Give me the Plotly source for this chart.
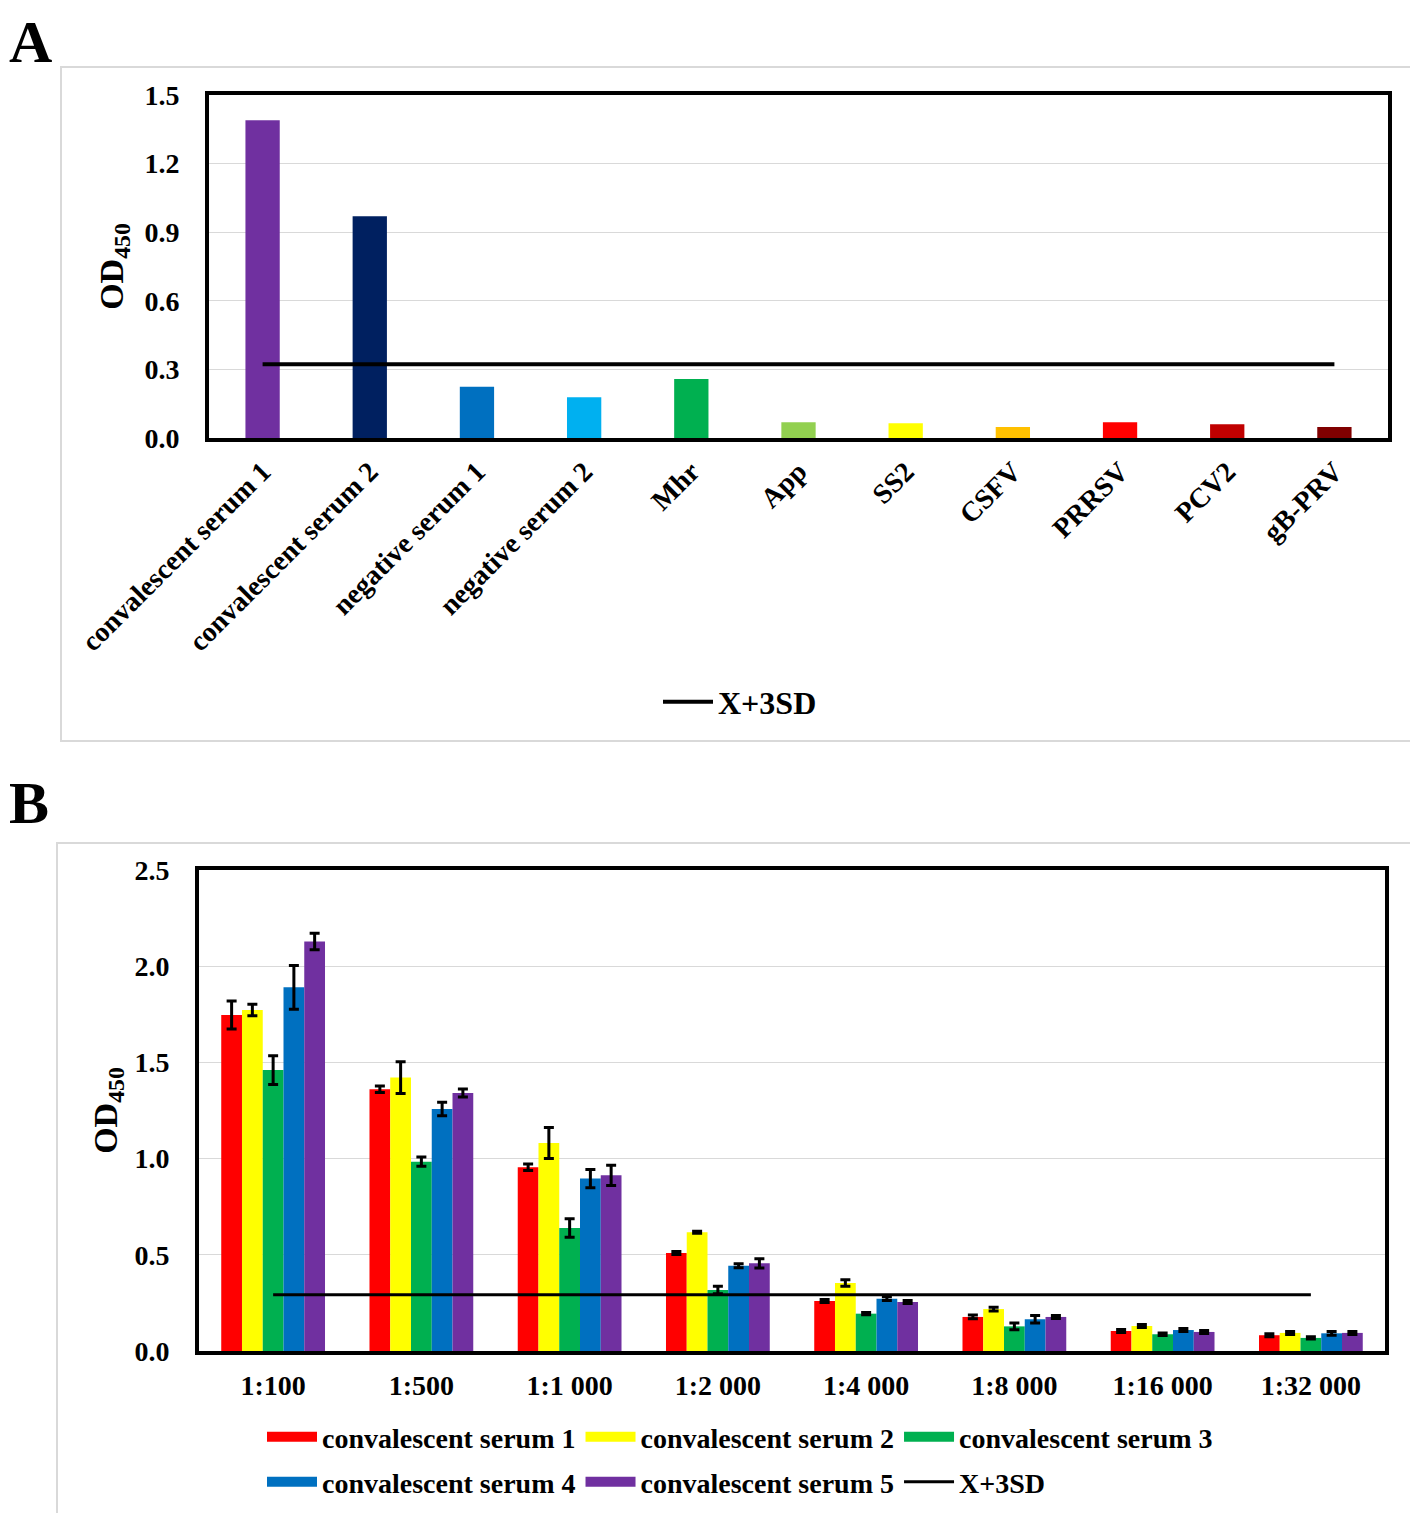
import plotly.graph_objects as go

# ---------------- Data: panel A ----------------
categories_a = ["convalescent serum 1", "convalescent serum 2", "negative serum 1",
                "negative serum 2", "Mhr", "App", "SS2", "CSFV", "PRRSV", "PCV2", "gB-PRV"]
od_a = [1.39, 0.97, 0.224, 0.178, 0.258, 0.069, 0.064, 0.048, 0.069, 0.060, 0.048]
colors_a = ["#7030A0", "#002060", "#0070C0", "#00B0F0", "#00B050", "#92D050",
            "#FFFF00", "#FFC000", "#FF0000", "#C00000", "#800000"]
cutoff_a = 0.322

# ---------------- Data: panel B ----------------
dilutions = ["1:100", "1:500", "1:1 000", "1:2 000", "1:4 000", "1:8 000", "1:16 000", "1:32 000"]
serum_names = ["convalescent serum 1", "convalescent serum 2", "convalescent serum 3",
               "convalescent serum 4", "convalescent serum 5"]
serum1 = [1.746, 1.360, 0.955, 0.509, 0.260, 0.177, 0.104, 0.082]
serum2 = [1.772, 1.421, 1.081, 0.617, 0.353, 0.218, 0.130, 0.094]
serum3 = [1.460, 0.984, 0.639, 0.317, 0.194, 0.128, 0.087, 0.068]
serum4 = [1.890, 1.258, 0.896, 0.443, 0.272, 0.165, 0.109, 0.092]
serum5 = [2.128, 1.341, 0.913, 0.456, 0.255, 0.177, 0.099, 0.094]
serum1_sd = [0.073, 0.017, 0.017, 0.008, 0.008, 0.010, 0.008, 0.008]
serum2_sd = [0.030, 0.083, 0.080, 0.005, 0.017, 0.010, 0.008, 0.008]
serum3_sd = [0.075, 0.024, 0.048, 0.020, 0.006, 0.018, 0.006, 0.006]
serum4_sd = [0.114, 0.035, 0.047, 0.010, 0.010, 0.019, 0.008, 0.010]
serum5_sd = [0.043, 0.021, 0.053, 0.024, 0.008, 0.008, 0.008, 0.008]
colors_b = ["#FF0000", "#FFFF00", "#00B050", "#0070C0", "#7030A0"]
cutoff_b = 0.293

FONT = "Times New Roman, Liberation Serif, serif"
OFF = 8                      # default page margin of the html body
W, H = 1418 - 2 * OFF, 1521 - 2 * OFF

fig = go.Figure()

# Panel A bars
fig.add_trace(go.Bar(x=categories_a, y=od_a, marker=dict(color=colors_a, line=dict(width=0)),
                     width=0.32, showlegend=False, xaxis="x", yaxis="y"))
fig.add_trace(go.Scatter(x=categories_a, y=[cutoff_a] * len(categories_a), mode="lines",
                         line=dict(color="black", width=4), name="X+3SD",
                         legend="legend", xaxis="x", yaxis="y"))

# Panel B bars
series = [serum1, serum2, serum3, serum4, serum5]
sds = [serum1_sd, serum2_sd, serum3_sd, serum4_sd, serum5_sd]
for name, vals, sd, col in zip(serum_names, series, sds, colors_b):
    fig.add_trace(go.Bar(x=dilutions, y=vals, name=name, marker=dict(color=col, line=dict(width=0)),
                         error_y=dict(type="data", array=sd, color="black", thickness=3, width=5),
                         showlegend=False, xaxis="x2", yaxis="y2"))
fig.add_trace(go.Scatter(x=dilutions, y=[cutoff_b] * len(dilutions), mode="lines",
                         line=dict(color="black", width=3), showlegend=False,
                         xaxis="x2", yaxis="y2"))

# Legend swatches for panel B
for i, (name, col) in enumerate(zip(serum_names, colors_b)):
    fig.add_trace(go.Scatter(x=[None], y=[None], mode="lines", line=dict(color=col, width=16),
                             name=name, legend="legend2" if i < 3 else "legend3",
                             xaxis="x2", yaxis="y2"))
fig.add_trace(go.Scatter(x=[None], y=[None], mode="lines", line=dict(color="black", width=3),
                         name="X+3SD", legend="legend3", xaxis="x2", yaxis="y2"))


def tfont(size):
    return dict(family=FONT, size=size, color="black", weight="bold")


axis_common = dict(showline=True, mirror=True, linecolor="black", linewidth=4, ticks="",
                   zeroline=False, automargin=False)


def px_x(v):
    return (v - OFF) / W


def px_y(v):
    return 1 - (v - OFF) / H


fig.update_layout(
    width=W, height=H, margin=dict(l=0, r=0, t=0, b=0, autoexpand=False),
    paper_bgcolor="white", plot_bgcolor="white",
    barmode="group", bargap=0.30, bargroupgap=0,
    font=dict(family=FONT, color="black"),
    xaxis=dict(domain=[px_x(209), px_x(1388)], anchor="y", tickangle=-45, showgrid=False,
               tickfont=tfont(28), ticklabelstandoff=2, **axis_common),
    yaxis=dict(domain=[px_y(438), px_y(95)], anchor="x", range=[0, 1.5], dtick=0.3,
               tickformat=".1f", showgrid=True, gridcolor="#d9d9d9", gridwidth=1,
               tickfont=tfont(28), ticklabelstandoff=20,
               title=dict(text="OD<sub>450</sub>", standoff=12, font=tfont(34)),
               **axis_common),
    xaxis2=dict(domain=[px_x(199), px_x(1385)], anchor="y2", showgrid=False,
                tickfont=tfont(28), ticklabelstandoff=6, **axis_common),
    yaxis2=dict(domain=[px_y(1351), px_y(870)], anchor="x2", range=[0, 2.5], dtick=0.5,
                tickformat=".1f", showgrid=True, gridcolor="#d9d9d9", gridwidth=1,
                tickfont=tfont(28), ticklabelstandoff=20,
                title=dict(text="OD<sub>450</sub>", standoff=8, font=tfont(34)),
                **axis_common),
    legend=dict(x=px_x(740), y=px_y(702), xanchor="center", yanchor="middle",
                orientation="h", itemwidth=50, bgcolor="rgba(0,0,0,0)", font=tfont(32)),
    legend2=dict(x=px_x(262), y=px_y(1437), xanchor="left", yanchor="middle",
                 orientation="h", itemwidth=50, bgcolor="rgba(0,0,0,0)", font=tfont(28)),
    legend3=dict(x=px_x(262), y=px_y(1482), xanchor="left", yanchor="middle",
                 orientation="h", itemwidth=50, bgcolor="rgba(0,0,0,0)", font=tfont(28)),
    shapes=[
        dict(type="rect", xref="paper", yref="paper", x0=px_x(61), x1=px_x(1413),
             y0=px_y(741), y1=px_y(67), line=dict(color="#d9d9d9", width=2), layer="below"),
        dict(type="rect", xref="paper", yref="paper", x0=px_x(57), x1=px_x(1413),
             y0=px_y(1518), y1=px_y(843), line=dict(color="#d9d9d9", width=2), layer="below"),
    ],
    annotations=[
        dict(text="A", x=0, y=1, xref="paper", yref="paper", xanchor="left",
             yanchor="top", showarrow=False, borderpad=0, font=tfont(60)),
        dict(text="B", x=0, y=px_y(803), xref="paper", yref="paper", xanchor="left",
             yanchor="middle", showarrow=False, borderpad=0, font=tfont(60)),
    ],
)

fig.write_html("out.html")
